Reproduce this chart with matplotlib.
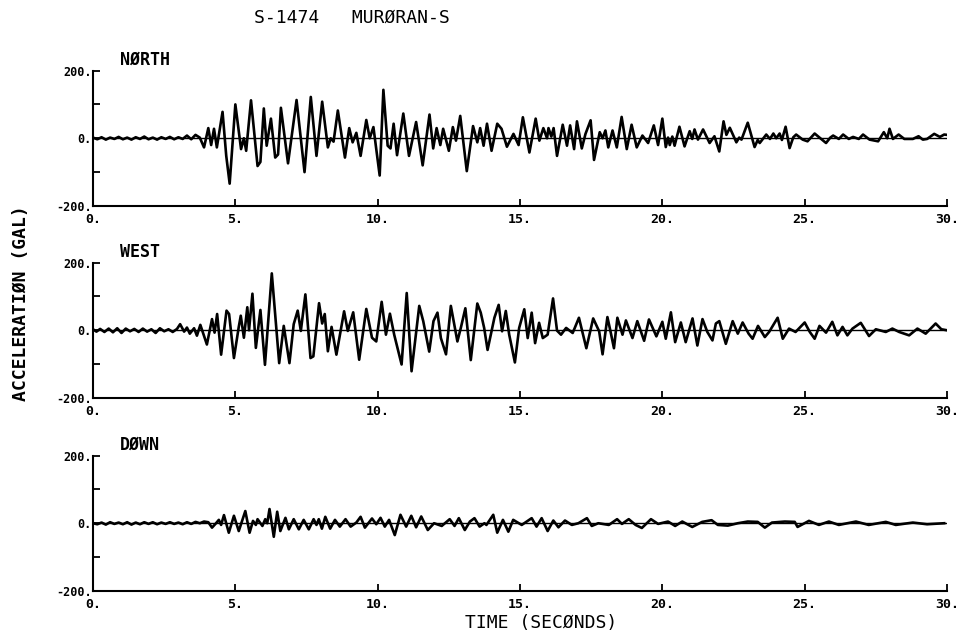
import matplotlib
matplotlib.use("Agg")
import matplotlib.pyplot as plt

# accelerogram S-1474 Muroran-S, peaks (time s, gal)
north_t = [0.0, 0.15, 0.3, 0.45, 0.6, 0.75, 0.9, 1.05, 1.2, 1.35, 1.5, 1.65, 1.8, 1.95,
           2.1, 2.25, 2.4, 2.55, 2.7, 2.85, 3.0, 3.15, 3.3, 3.45, 3.6, 3.75, 3.9, 4.05,
           4.15, 4.25, 4.35, 4.55, 4.68, 4.8, 5.0, 5.2, 5.3, 5.38, 5.55, 5.78, 5.88, 6.0,
           6.1, 6.25, 6.4, 6.5, 6.6, 6.85, 7.15, 7.43, 7.65, 7.85, 8.05, 8.25, 8.35, 8.45,
           8.6, 8.85, 9.0, 9.12, 9.25, 9.4, 9.6, 9.72, 9.85, 10.07, 10.2, 10.35, 10.45,
           10.56, 10.68, 10.9, 11.1, 11.35, 11.58, 11.82, 11.95, 12.07, 12.2, 12.3, 12.5,
           12.64, 12.75, 12.9, 13.13, 13.35, 13.5, 13.6, 13.72, 13.84, 14.0, 14.2, 14.35,
           14.54, 14.77, 14.95, 15.1, 15.33, 15.55, 15.68, 15.82, 15.95, 16.0, 16.1, 16.18,
           16.3, 16.5, 16.65, 16.76, 16.9, 17.0, 17.17, 17.3, 17.48, 17.6, 17.8, 17.9, 18.0,
           18.1, 18.25, 18.4, 18.57, 18.75, 18.92, 19.1, 19.3, 19.5, 19.7, 19.85, 20.0,
           20.12, 20.2, 20.26, 20.35, 20.43, 20.6, 20.78, 20.96, 21.05, 21.13, 21.25, 21.43,
           21.66, 21.83, 22.0, 22.15, 22.25, 22.37, 22.6, 22.7, 22.78, 23.0, 23.24, 23.35,
           23.42, 23.65, 23.78, 23.9, 24.0, 24.12, 24.2, 24.33, 24.47, 24.6, 24.7, 24.93,
           25.1, 25.35, 25.55, 25.75, 25.9, 26.0, 26.2, 26.35, 26.55, 26.7, 26.9, 27.05,
           27.28, 27.58, 27.78, 27.9, 27.98, 28.1, 28.3, 28.5, 28.8, 29.0, 29.15, 29.3,
           29.55, 29.75, 29.9, 30.0]
north_a = [2, -3, 3, -4, 2, -2, 4, -3, 2, -4, 3, -2, 5, -3,
           2, -4, 3, -2, 4, -3, 3, -2, 8, -3, 10, 2, -27, 30,
           -20, 28, -27, 78, -52, -134, 100, -32, 0, -37, 112, -82, -70, 88,
           -22, 58, -57, -48, 90, -74, 113, -100, 122, -52, 108, -27, 0, -10,
           82, -57, 30, -12, 16, -52, 54, 0, 33, -110, 143, -22, -30,
           43, -50, 73, -52, 48, -80, 70, -30, 30, -20, 28, -37,
           33, -7, 66, -97, 36, -12, 30, -22, 43, -37, 43, 28,
           -25, 13, -20, 62, -42, 58, -7, 30, 0, 30, 5, 30,
           -52, 40, -22, 38, -32, 50, -30, 13, 53, -64, 18, 0, 23,
           -27, 23, -27, 63, -32, 40, -27, 8, -14, 38, -20, 58,
           -26, 2, -20, 5, -22, 34, -24, 21, -2, 26, -4, 26,
           -14, 6, -39, 50, 10, 31, -12, 2, -4, 46, -26, -5,
           -14, 11, -2, 14, 0, 14, -5, 34, -29, 3, 11, -4,
           -9, 14, 0, -14, 2, 8, -2, 11, -2, 4, -2, 11,
           -4, -9, 18, 0, 28, -2, 11, -2, -2, 6, -4, -2,
           13, 4, 11, 10]

west_t = [0.0, 0.12, 0.25, 0.4, 0.55, 0.7, 0.85, 1.0, 1.15, 1.3, 1.45, 1.6, 1.75, 1.9,
          2.05, 2.2, 2.35, 2.5, 2.65, 2.8, 2.95, 3.06, 3.2, 3.3, 3.4, 3.55, 3.65, 3.77,
          4.0, 4.18, 4.27, 4.36, 4.5, 4.69, 4.78, 4.95, 5.12, 5.19, 5.3, 5.42, 5.48, 5.6,
          5.72, 5.88, 6.04, 6.28, 6.54, 6.7, 6.9, 7.05, 7.19, 7.3, 7.46, 7.64, 7.74, 7.94,
          8.05, 8.14, 8.25, 8.38, 8.55, 8.82, 8.95, 9.14, 9.35, 9.6, 9.8, 9.95, 10.14,
          10.29, 10.43, 10.58, 10.7, 10.84, 11.02, 11.19, 11.46, 11.6, 11.81, 11.96, 12.1,
          12.22, 12.4, 12.57, 12.8, 12.92, 13.08, 13.27, 13.5, 13.62, 13.74, 13.86, 14.1,
          14.25, 14.37, 14.5, 14.62, 14.82, 14.97, 15.15, 15.27, 15.41, 15.53, 15.67, 15.8,
          15.97, 16.16, 16.3, 16.44, 16.62, 16.85, 17.07, 17.33, 17.57, 17.78, 17.9, 18.07,
          18.19, 18.3, 18.42, 18.6, 18.72, 18.95, 19.12, 19.36, 19.53, 19.79, 20.0, 20.12,
          20.3, 20.45, 20.65, 20.82, 21.06, 21.23, 21.41, 21.58, 21.76, 21.88, 22.0, 22.23,
          22.47, 22.65, 22.82, 23.03, 23.17, 23.36, 23.6, 23.75, 24.05, 24.23, 24.45, 24.68,
          25.0, 25.18, 25.35, 25.52, 25.75, 25.97, 26.15, 26.33, 26.5, 26.68, 26.97, 27.26,
          27.5, 27.85, 28.08, 28.32, 28.67, 28.96, 29.25, 29.6, 29.8, 30.0]
west_a = [3, -4, 4, -5, 5, -6, 6, -8, 5, -3, 4, -5, 5, -4,
          3, -8, 6, -3, 3, -5, 4, 18, -4, 8, -10, 6, -16, 16,
          -42, 33, -7, 48, -72, 58, 48, -82, 10, 43, -22, 68, 0, 108,
          -52, 60, -102, 168, -97, 13, -97, 18, 58, -2, 106, -82, -77, 80,
          20, 48, -62, 10, -72, 56, -2, 53, -87, 63, -22, -33, 84,
          -13, 49, -13, -53, -101, 110, -121, 72, 27, -63, 27, 52,
          -23, -71, 72, -33, 7, 65, -88, 79, 52, 7, -58, 37,
          75, -3, 57, -13, -95, 7, 62, -23, 52, -38, 22, -23,
          -13, 94, -1, -13, 7, -8, 37, -53, 35, -3, -71, 39,
          -8, -53, 37, -13, 29, -23, 27, -31, 32, -18, 25, -25,
          53, -35, 23, -35, 35, -45, 33, -5, -30, 20, 27, -40,
          27, -10, 23, -10, -25, 13, -20, -5, 37, -25, 5, -5,
          23, -5, -25, 13, -7, 25, -15, 10, -15, 5, 22, -17,
          3, -5, 5, -5, -15, 5, -10, 20, 3, 0]

down_t = [0.0, 0.15, 0.3, 0.45, 0.6, 0.75, 0.9, 1.05, 1.2, 1.35, 1.5, 1.65, 1.8, 1.95,
          2.1, 2.25, 2.4, 2.55, 2.7, 2.85, 3.0, 3.15, 3.3, 3.45, 3.6, 3.75, 3.9, 4.05,
          4.18, 4.3, 4.42, 4.5, 4.6, 4.77, 4.95, 5.12, 5.35, 5.5, 5.62, 5.72, 5.78, 5.95,
          6.05, 6.12, 6.2, 6.35, 6.47, 6.58, 6.76, 6.88, 7.05, 7.23, 7.4, 7.58, 7.75, 7.85,
          7.93, 8.04, 8.16, 8.33, 8.5, 8.67, 8.87, 9.05, 9.25, 9.4, 9.55, 9.8, 9.95, 10.1,
          10.25, 10.4, 10.6, 10.8, 11.0, 11.18, 11.35, 11.53, 11.76, 11.98, 12.25, 12.53,
          12.7, 12.85, 13.06, 13.24, 13.4, 13.58, 13.75, 13.82, 14.06, 14.2, 14.4, 14.59,
          14.76, 15.06, 15.41, 15.58, 15.76, 15.97, 16.17, 16.35, 16.58, 16.82, 17.05, 17.35,
          17.52, 17.75, 18.12, 18.41, 18.58, 18.82, 19.06, 19.28, 19.6, 19.85, 20.05, 20.2,
          20.45, 20.7, 21.05, 21.4, 21.73, 21.95, 22.3, 22.65, 23.0, 23.35, 23.6, 23.85,
          24.3, 24.65, 24.75, 25.15, 25.5, 25.85, 26.2, 26.8, 27.25, 27.85, 28.2, 28.8,
          29.3, 29.9]
down_a = [0, -3, 2, -4, 3, -2, 2, -3, 3, -4, 2, -3, 3, -2,
          3, -3, 2, -2, 3, -2, 2, -3, 3, -2, 4, 0, 5, 3,
          -13, -2, 10, -5, 24, -28, 22, -23, 36, -28, 7, -5, 12, -8,
          12, 0, 42, -40, 34, -23, 16, -18, 12, -18, 10, -18, 12, -5,
          12, -16, 19, -16, 10, -10, 12, -10, 2, 19, -13, 14, -3, 16,
          -10, 10, -35, 25, -10, 22, -12, 20, -20, 0, -8, 12,
          -8, 15, -20, 5, 15, -10, 0, -5, 25, -28, 10, -25,
          10, -5, 15, -10, 15, -23, 8, -12, 8, -5, 0, 15,
          -8, 0, -5, 12, -2, 12, -5, -14, 12, -2, 2, 5,
          -8, 5, -11, 4, 9, -5, -7, 0, 5, 4, -13, 2,
          5, 4, -11, 7, -5, 5, -5, 5, -5, 4, -5, 2,
          -3, 0]

names = ["NØRTH", "WEST", "DØWN"]
times = [north_t, west_t, down_t]
accels = [north_a, west_a, down_a]
bottoms = [0.6761, 0.3742, 0.0708]

plt.rcParams['font.family'] = 'DejaVu Sans Mono'

fig = plt.figure(figsize=(9.72, 6.36), dpi=100)

for name, t, a, b in zip(names, times, accels, bottoms):
    ax = fig.add_axes([0.0957, b, 0.8786, 0.2130])
    ax.plot(t, a, color='black', lw=1.9, solid_joinstyle='round')
    ax.axhline(0, color='black', lw=1.0)
    ax.set_xlim(0, 30)
    ax.set_ylim(-200, 200)
    for s in ['top', 'right']:
        ax.spines[s].set_visible(False)
    for s in ['left', 'bottom']:
        ax.spines[s].set_linewidth(1.5)
    ax.set_yticks([-200, 0, 200])
    ax.set_yticklabels(['-200.', '0.', '200.'])
    ax.set_yticks([-100, 100], minor=True)
    ax.set_xticks(range(0, 31, 5))
    ax.set_xticklabels(['%d.' % v for v in range(0, 31, 5)])
    ax.tick_params(which='both', direction='in', length=5, width=1.3)
    ax.tick_params(axis='y', labelsize=8.5, pad=1)
    ax.tick_params(axis='x', labelsize=9.5, pad=5)
    for lab in ax.get_xticklabels() + ax.get_yticklabels():
        lab.set_fontweight('bold')
    ax.text(0.032, 1.08, name, transform=ax.transAxes, fontsize=12,
            fontweight='bold', va='center')

fig.text(0.362, 0.972, "S-1474   MURØRAN-S", fontsize=13, ha='center', va='center')
fig.text(0.022, 0.524, "ACCELERATIØN (GAL)", fontsize=13, rotation=90,
         ha='center', va='center', fontweight='bold')
fig.text(0.557, 0.020, "TIME (SECØNDS)", fontsize=13, ha='center', va='center')

plt.savefig("out.png", dpi=100)
